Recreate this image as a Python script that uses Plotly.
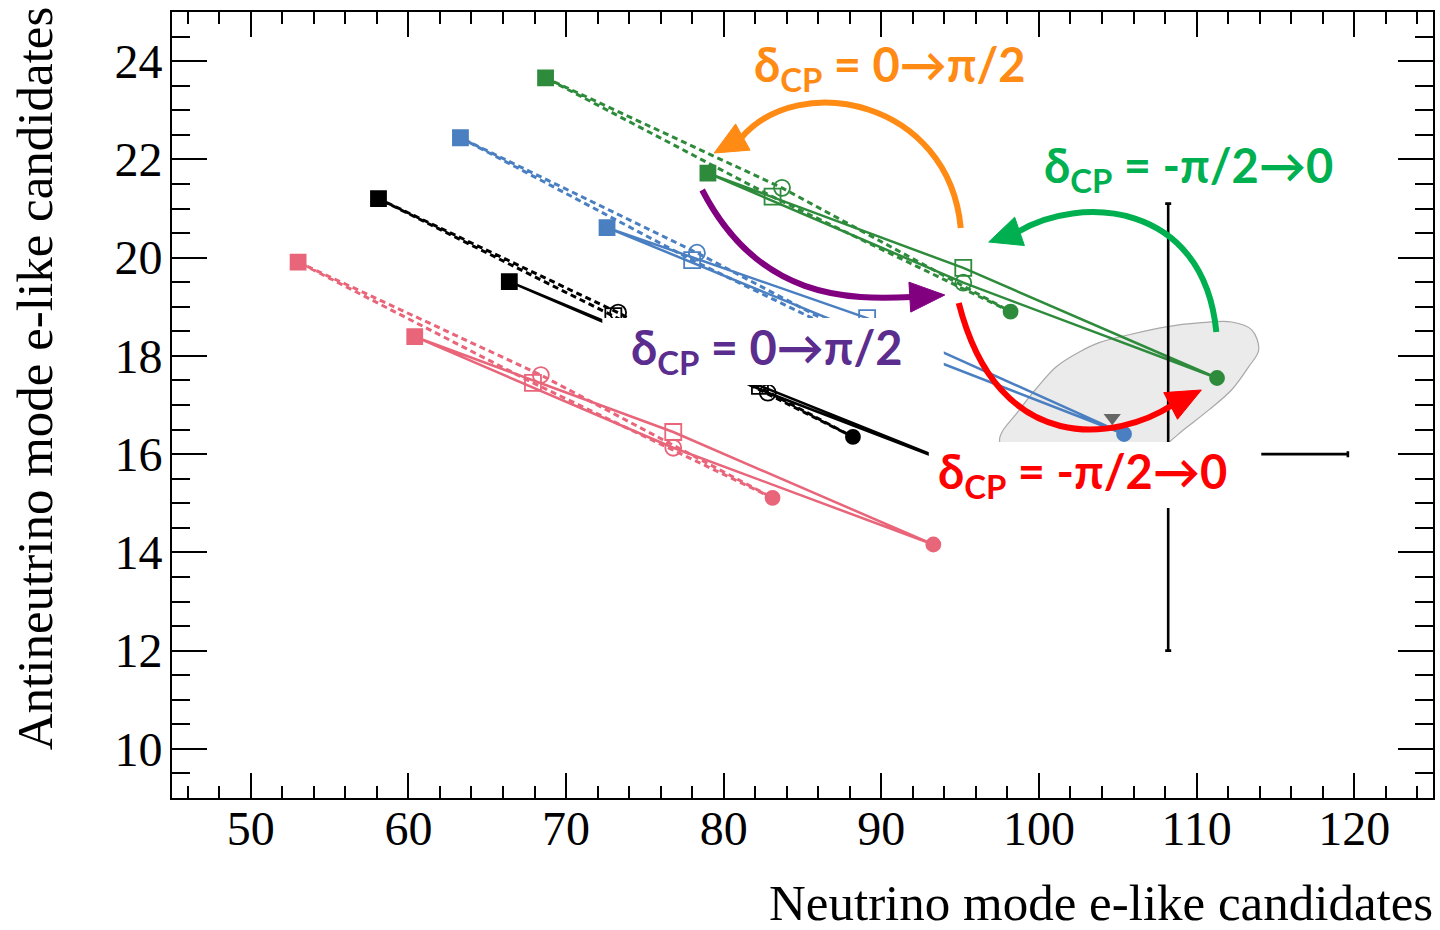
import plotly.graph_objects as go

# ---------------- data ----------------
x_range = [45, 125]
y_range = [9, 25]
x_tick_vals = [50, 60, 70, 80, 90, 100, 110, 120]
y_tick_vals = [10, 12, 14, 16, 18, 20, 22, 24]

# order of points on each ellipse: dCP = -pi/2, 0, pi/2, pi
delta_labels = ["-π/2", "0", "π/2", "π"]
delta_symbols = ["circle", "square-open", "square", "circle-open"]

green_nh_x = [111.3, 95.2, 79.0, 95.2]
green_nh_y = [17.55, 19.79, 21.72, 19.49]
green_ih_x = [98.2, 83.1, 68.7, 83.7]
green_ih_y = [18.90, 21.24, 23.66, 21.42]

blue_nh_x = [105.4, 89.1, 72.6, 89.0]
blue_nh_y = [16.41, 18.77, 20.61, 18.45]
blue_ih_x = [92.5, 78.0, 63.3, 78.3]
blue_ih_y = [17.70, 19.95, 22.44, 20.10]

black_nh_x = [97.0, 82.3, 66.4, 82.8]
black_nh_y = [15.50, 17.39, 19.51, 17.25]
black_ih_x = [88.2, 73.0, 58.1, 73.3]
black_ih_y = [16.35, 18.81, 21.20, 18.88]

pink_nh_x = [93.3, 76.8, 60.4, 76.8]
pink_nh_y = [14.16, 16.45, 18.39, 16.13]
pink_ih_x = [83.1, 67.9, 53.0, 68.4]
pink_ih_y = [15.11, 17.45, 19.91, 17.61]

# observed data point with errors
data_x = [108.2]
data_y = [16.0]
data_xerr_plus = [11.4]
data_xerr_minus = [10.4]
data_yerr_plus = [5.1]
data_yerr_minus = [4.0]

extra_x = [104.65]
extra_y = [16.74]

# shaded contour
contour_x = [97.5, 98.76, 100.03, 101.1, 102.56, 103.82, 105.72, 108.06, 110.15, 112.23,
             113.5, 113.94, 113.31, 112.23, 110.78, 109.2, 107.62, 105.09, 101.29, 98.45, 97.5]
contour_y = [16.29, 16.9, 17.41, 17.78, 18.08, 18.27, 18.43, 18.59, 18.67, 18.69,
             18.53, 18.12, 17.78, 17.31, 16.9, 16.5, 16.09, 15.68, 15.48, 15.78, 16.29]

GREEN = "#2e8b3c"
BLUE = "#4a7fc1"
BLACK = "#000000"
PINK = "#e8657a"

series = [
    (pink_ih_x, pink_ih_y, PINK, "dash"),
    (pink_nh_x, pink_nh_y, PINK, "solid"),
    (black_ih_x, black_ih_y, BLACK, "dash"),
    (black_nh_x, black_nh_y, BLACK, "solid"),
    (blue_ih_x, blue_ih_y, BLUE, "dash"),
    (blue_nh_x, blue_nh_y, BLUE, "solid"),
    (green_ih_x, green_ih_y, GREEN, "dash"),
    (green_nh_x, green_nh_y, GREEN, "solid"),
]

# ---------------- geometry ----------------
W, H = 1440, 930
ML, MR, MT, MB = 172, 5, 12, 132
PW, PH = W - ML - MR, H - MT - MB


def p2d(px, py):
    x = x_range[0] + (px - ML) / PW * (x_range[1] - x_range[0])
    y = y_range[1] - (py - MT) / PH * (y_range[1] - y_range[0])
    return x, y


fig = go.Figure()

fig.add_trace(go.Scatter(x=contour_x, y=contour_y, mode="lines", fill="toself",
                         fillcolor="#ebebeb", line=dict(color="#a8a8a8", width=1.2, shape="spline"),
                         hoverinfo="skip", showlegend=False))

for xs, ys, col, dash in series:
    fig.add_trace(go.Scatter(
        x=xs + [xs[0]], y=ys + [ys[0]], mode="lines",
        line=dict(color=col, width=2.5 if dash == "solid" else 3,
                  dash="solid" if dash == "solid" else "6px,4px"),
        showlegend=False, hoverinfo="skip"))
    fig.add_trace(go.Scatter(
        x=xs, y=ys, mode="markers", text=delta_labels,
        marker=dict(symbol=delta_symbols, color=col, size=[14, 16, 15, 16], opacity=1,
                    line=dict(color=col, width=1.8)),
        showlegend=False))

fig.add_trace(go.Scatter(x=extra_x, y=extra_y, mode="markers",
                         marker=dict(symbol="triangle-down", color="#666666", size=15, opacity=1),
                         showlegend=False))

fig.add_trace(go.Scatter(
    x=data_x, y=data_y, mode="markers",
    marker=dict(color="black", size=6),
    error_x=dict(type="data", symmetric=False, array=data_xerr_plus,
                 arrayminus=data_xerr_minus, color="black", thickness=2.6, width=3),
    error_y=dict(type="data", symmetric=False, array=data_yerr_plus,
                 arrayminus=data_yerr_minus, color="black", thickness=2.6, width=3),
    showlegend=False))

shapes = []

# white label boxes
for (x0, y0, x1, y1) in [(603, 318, 945, 385), (930, 442, 1263, 508)]:
    a = p2d(x0, y0)
    b = p2d(x1, y1)
    shapes.append(dict(type="rect", xref="x", yref="y", x0=a[0], y0=a[1], x1=b[0], y1=b[1],
                       fillcolor="white", line=dict(width=0), layer="above"))

# curved arrows (pixel control points -> data)
arrows = [
    ("#ff8a14", [(962, 228), (950, 100), (800, 70), (742, 138)], (715, 153)),
    ("#800080", [(703, 190), (760, 300), (850, 300), (913, 297)], (946, 295)),
    ("#00b050", [(1218, 332), (1205, 200), (1080, 195), (1019, 232)], (990, 242)),
    ("#ff0000", [(960, 303), (1000, 460), (1120, 440), (1174, 405)], (1203, 390)),
]
for col, pts, tip in arrows:
    d = [p2d(*p) for p in pts]
    path = "M {},{} C {},{} {},{} {},{}".format(d[0][0], d[0][1], d[1][0], d[1][1],
                                               d[2][0], d[2][1], d[3][0], d[3][1])
    shapes.append(dict(type="path", xref="x", yref="y", path=path,
                       line=dict(color=col, width=6), layer="above"))
    bx, by = pts[3]
    tx, ty = tip
    dx, dy = tx - bx, ty - by
    L = (dx * dx + dy * dy) ** 0.5
    nx, ny = -dy / L, dx / L
    hw = 15
    b2x, b2y = bx - dx / L * 2, by - dy / L * 2
    q1 = p2d(b2x + nx * hw, b2y + ny * hw)
    q2 = p2d(b2x - nx * hw, b2y - ny * hw)
    t = p2d(tx, ty)
    tri = "M {},{} L {},{} L {},{} Z".format(t[0], t[1], q1[0], q1[1], q2[0], q2[1])
    shapes.append(dict(type="path", xref="x", yref="y", path=tri,
                       fillcolor=col, line=dict(color=col, width=1), layer="above"))

annotations = []
LABEL_FONT = "Lato"
labels = [
    ("δ<sub>CP</sub> = 0→π/2", "#ff8a14", (891, 67)),
    ("δ<sub>CP</sub> = -π/2→0", "#00b050", (1190, 168)),
    ("δ<sub>CP</sub> = 0→π/2", "#5b2d8e", (768, 350)),
    ("δ<sub>CP</sub> = -π/2→0", "#ff0000", (1084, 474)),
]
for txt, col, (px, py) in labels:
    x, y = p2d(px, py)
    annotations.append(dict(x=x, y=y, xref="x", yref="y", text=txt, showarrow=False,
                            font=dict(family=LABEL_FONT, size=47, color=col, weight="bold"),
                            xanchor="center", yanchor="middle"))

# axis titles (ROOT style, right aligned)
annotations.append(dict(x=(1437 - ML) / PW, y=(MT + PH - 903) / PH, xref="paper", yref="paper",
                        text="Neutrino mode e-like candidates", showarrow=False,
                        font=dict(family="Liberation Serif", size=51, color="black"),
                        xanchor="right", yanchor="middle"))
annotations.append(dict(x=(35 - ML) / PW, y=(MT + PH - 378) / PH, xref="paper", yref="paper",
                        text="Antineutrino mode e-like candidates", showarrow=False, textangle=-90,
                        font=dict(family="Liberation Serif", size=51, color="black"),
                        xanchor="center", yanchor="middle"))

fig.update_layout(
    width=W, height=H,
    margin=dict(l=ML, r=MR, t=MT, b=MB),
    paper_bgcolor="white", plot_bgcolor="white",
    shapes=shapes, annotations=annotations,
    showlegend=False,
)

fig.update_xaxes(range=x_range, tickvals=x_tick_vals, ticktext=[str(v) for v in x_tick_vals],
                 ticks="inside", ticklen=25, tickwidth=2, tickcolor="black",
                 showline=True, linewidth=2, linecolor="black", mirror="ticks",
                 showgrid=False, zeroline=False,
                 tickfont=dict(family="Liberation Serif", size=48, color="black"),
                 ticklabelstandoff=-13,
                 minor=dict(dtick=2, tick0=0, ticks="inside", ticklen=12, tickwidth=2,
                            tickcolor="black", showgrid=False))
fig.update_yaxes(range=y_range, tickvals=y_tick_vals, ticktext=[str(v) for v in y_tick_vals],
                 ticks="inside", ticklen=35, tickwidth=2, tickcolor="black",
                 showline=True, linewidth=2, linecolor="black", mirror="ticks",
                 showgrid=False, zeroline=False,
                 tickfont=dict(family="Liberation Serif", size=48, color="black"),
                 ticklabelstandoff=-2,
                 minor=dict(dtick=0.5, tick0=0, ticks="inside", ticklen=18, tickwidth=2,
                            tickcolor="black", showgrid=False))

fig.write_html("out.html")
